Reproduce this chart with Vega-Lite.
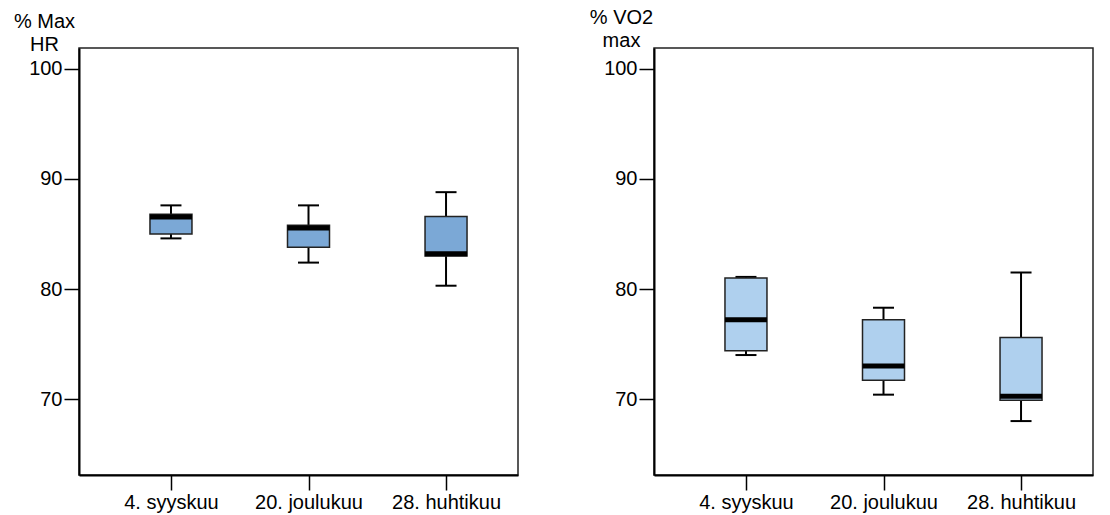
{
  "$schema": "https://vega.github.io/schema/vega-lite/v6.json",
  "padding": {"left": 12, "top": 6, "right": 5, "bottom": 5},
  "background": "white",
  "datasets": {
    "hr": [
      {"date": "4. syyskuu", "min": 84.6, "q1": 85.0, "median": 86.55, "q3": 86.8, "max": 87.6},
      {"date": "20. joulukuu", "min": 82.4, "q1": 83.8, "median": 85.55, "q3": 85.8, "max": 87.6},
      {"date": "28. huhtikuu", "min": 80.3, "q1": 83.0, "median": 83.2, "q3": 86.6, "max": 88.8}
    ],
    "vo2": [
      {"date": "4. syyskuu", "min": 74.0, "q1": 74.4, "median": 77.2, "q3": 81.0, "max": 81.1},
      {"date": "20. joulukuu", "min": 70.4, "q1": 71.7, "median": 73.0, "q3": 77.2, "max": 78.3},
      {"date": "28. huhtikuu", "min": 68.0, "q1": 69.9, "median": 70.25, "q3": 75.6, "max": 81.5}
    ]
  },
  "bounds": "flush",
  "spacing": 136,
  "hconcat": [
    {
      "width": 439,
      "height": 427,
      "data": {"name": "hr"},
      "encoding": {
        "x": {"field": "date", "type": "nominal", "sort": null,
          "scale": {"type": "point", "padding": 0.596, "align": 0.561},
          "axis": {"title": null, "labelAngle": 0}}
      },
      "layer": [
        {"mark": {"type": "rule", "color": "black", "strokeWidth": 2, "opacity": 1},
         "encoding": {"y": {"field": "min", "type": "quantitative",
            "scale": {"domain": [63.1, 101.9], "nice": false, "zero": false},
            "axis": {"values": [70, 80, 90, 100], "title": ["% Max", "HR"], "titleAngle": 0, "titleAlign": "center", "titleBaseline": "alphabetic", "titleX": -35, "titleY": -21, "titleLineHeight": 23}},
           "y2": {"field": "max"}}},
        {"mark": {"type": "tick", "color": "black", "size": 21, "thickness": 2, "orient": "horizontal", "opacity": 1},
         "encoding": {"y": {"field": "min", "type": "quantitative"}}},
        {"mark": {"type": "tick", "color": "black", "size": 21, "thickness": 2, "orient": "horizontal", "opacity": 1},
         "encoding": {"y": {"field": "max", "type": "quantitative"}}},
        {"mark": {"type": "bar", "width": 42, "fill": "#7BA8D6", "stroke": "#222222", "strokeWidth": 1.5, "opacity": 1},
         "encoding": {"y": {"field": "q1", "type": "quantitative"}, "y2": {"field": "q3"}}},
        {"mark": {"type": "tick", "color": "black", "size": 42, "thickness": 5, "orient": "horizontal", "opacity": 1},
         "encoding": {"y": {"field": "median", "type": "quantitative"}}}
      ]
    },
    {
      "width": 439,
      "height": 427,
      "data": {"name": "vo2"},
      "encoding": {
        "x": {"field": "date", "type": "nominal", "sort": null,
          "scale": {"type": "point", "padding": 0.596, "align": 0.561},
          "axis": {"title": null, "labelAngle": 0}}
      },
      "layer": [
        {"mark": {"type": "rule", "color": "black", "strokeWidth": 2, "opacity": 1},
         "encoding": {"y": {"field": "min", "type": "quantitative",
            "scale": {"domain": [63.1, 101.9], "nice": false, "zero": false},
            "axis": {"values": [70, 80, 90, 100], "title": ["% VO2", "max"], "titleAngle": 0, "titleAlign": "center", "titleBaseline": "alphabetic", "titleX": -33, "titleY": -25, "titleLineHeight": 23}},
           "y2": {"field": "max"}}},
        {"mark": {"type": "tick", "color": "black", "size": 21, "thickness": 2, "orient": "horizontal", "opacity": 1},
         "encoding": {"y": {"field": "min", "type": "quantitative"}}},
        {"mark": {"type": "tick", "color": "black", "size": 21, "thickness": 2, "orient": "horizontal", "opacity": 1},
         "encoding": {"y": {"field": "max", "type": "quantitative"}}},
        {"mark": {"type": "bar", "width": 42, "fill": "#AFD0EE", "stroke": "#222222", "strokeWidth": 1.5, "opacity": 1},
         "encoding": {"y": {"field": "q1", "type": "quantitative"}, "y2": {"field": "q3"}}},
        {"mark": {"type": "tick", "color": "black", "size": 42, "thickness": 5, "orient": "horizontal", "opacity": 1},
         "encoding": {"y": {"field": "median", "type": "quantitative"}}}
      ]
    }
  ],
  "config": {
    "font": "Liberation Sans",
    "view": {"stroke": "#222222", "strokeWidth": 1.5},
    "axis": {
      "grid": false,
      "domainColor": "black",
      "domainWidth": 2,
      "tickColor": "black",
      "tickWidth": 1.5,
      "tickSize": 15,
      "labelFont": "Liberation Sans",
      "labelFontSize": 20,
      "labelColor": "black",
      "labelPadding": 2,
      "titleFont": "Liberation Sans",
      "titleFontSize": 20,
      "titleFontWeight": "normal",
      "titleColor": "black"
    },
    "axisX": {"labelPadding": 2}
  }
}
